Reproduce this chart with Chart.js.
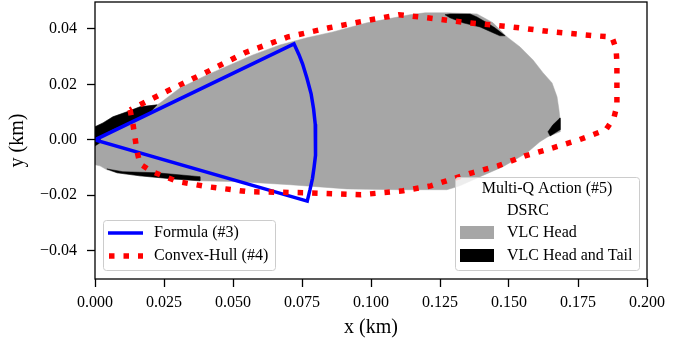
<!DOCTYPE html>
<html>
<head>
<meta charset="utf-8">
<title>Coverage</title>
<script src="https://cdn.jsdelivr.net/npm/chart.js@4.4.1/dist/chart.umd.min.js"></script>
<style>
  html, body { margin: 0; padding: 0; background: #fff; }
  #wrap { width: 689px; height: 345px; }
</style>
</head>
<body>
<div id="wrap"><canvas id="coverage" width="689" height="345"></canvas></div>
<script>
// ---- data (km) ----
const xTicks = [0, 0.025, 0.05, 0.075, 0.1, 0.125, 0.15, 0.175, 0.2];
const yTicks = [-0.04, -0.02, 0, 0.02, 0.04];

// Formula (#3): origin -> arc of the sector -> origin
const formulaSector = [
  [0, 0], [0.0721, 0.0346], [0.0739, 0.0307], [0.0752, 0.0274], [0.0768, 0.0222],
  [0.0783, 0.0166], [0.0792, 0.0111], [0.0798, 0.0056], [0.0800, 0.0000],
  [0.0798, -0.0056], [0.0794, -0.0097], [0.0788, -0.0139], [0.0779, -0.0180],
  [0.0769, -0.0221], [0, 0]
];

// Convex-Hull (#4)
const convexHull = [
  [0.0127, 0.0108], [0.0138, 0.0054], [0.0152, -0.0040], [0.0163, -0.0087],
  [0.0207, -0.0115], [0.0301, -0.0151], [0.0406, -0.0169], [0.0554, -0.0187],
  [0.0761, -0.0191], [0.0964, -0.0198], [0.1116, -0.0184], [0.1217, -0.0166],
  [0.1264, -0.0151], [0.1366, -0.0119], [0.1460, -0.0094], [0.1558, -0.0058],
  [0.1659, -0.0029], [0.1754, 0.0000], [0.1851, 0.0036], [0.1880, 0.0079],
  [0.1891, 0.0123], [0.1891, 0.0278], [0.1888, 0.0328], [0.1873, 0.0371],
  [0.1815, 0.0375], [0.1659, 0.0389], [0.1511, 0.0407], [0.1355, 0.0422],
  [0.1203, 0.0440], [0.1101, 0.0451], [0.1000, 0.0433], [0.0848, 0.0404],
  [0.0699, 0.0371], [0.0543, 0.0314], [0.0406, 0.0245], [0.0264, 0.0177],
  [0.0127, 0.0108]
];

// Multi-Q Action (#5): VLC Head region (grey)
const vlcHead = [
  [0, 0.0047], [0.0029, 0.0061], [0.0065, 0.0083], [0.0116, 0.0101], [0.0163, 0.0119],
  [0.0225, 0.0126], [0.0236, 0.0133], [0.0308, 0.0187], [0.0406, 0.0234], [0.0489, 0.0270],
  [0.0572, 0.0306], [0.0670, 0.0342], [0.0768, 0.0368], [0.0862, 0.0389], [0.0986, 0.0422],
  [0.1141, 0.0451], [0.1196, 0.0458], [0.1275, 0.0458], [0.1384, 0.0454], [0.1442, 0.0422],
  [0.1493, 0.0371], [0.1540, 0.0335], [0.1587, 0.0288], [0.1623, 0.0242], [0.1656, 0.0205],
  [0.1674, 0.0155], [0.1681, 0.0108], [0.1685, 0.0072], [0.1685, 0.0029], [0.1641, 0.0011],
  [0.1612, -0.0007], [0.1565, -0.0047], [0.1478, -0.0097], [0.1395, -0.0133], [0.1322, -0.0166],
  [0.1275, -0.0180], [0.1105, -0.0180], [0.0913, -0.0177], [0.0707, -0.0162], [0.0525, -0.0151],
  [0.0380, -0.0148], [0.0283, -0.0141], [0.0163, -0.0130], [0.0080, -0.0119], [0.0043, -0.0108],
  [0.0018, -0.0094], [0, -0.0090], [0, 0.0047]
];

// VLC Head and Tail patches (black)
const headTailUpperLeft = [
  [0, 0.0047], [0.0029, 0.0061], [0.0065, 0.0083], [0.0116, 0.0101], [0.0163, 0.0119],
  [0.0225, 0.0126], [0.0199, 0.0098], [0.0127, 0.0065], [0.0054, 0.0032], [0.0018, 0.0011],
  [0.0018, -0.0011], [0, -0.0022], [0, 0.0047]
];
const headTailLowerLeft = [
  [0.0043, -0.0105], [0.0101, -0.0115], [0.0225, -0.0119], [0.0380, -0.0133],
  [0.0380, -0.0148], [0.0283, -0.0141], [0.0163, -0.0130], [0.0080, -0.0119], [0.0043, -0.0105]
];
const headTailTop = [
  [0.1268, 0.0451], [0.1286, 0.0454], [0.1359, 0.0454], [0.1384, 0.0443], [0.1420, 0.0422],
  [0.1449, 0.0404], [0.1486, 0.0375], [0.1467, 0.0375], [0.1442, 0.0386], [0.1395, 0.0407],
  [0.1333, 0.0422], [0.1286, 0.0440], [0.1268, 0.0451]
];
const headTailRight = [
  [0.1641, 0.0029], [0.1659, 0.0054], [0.1685, 0.0079], [0.1685, 0.0036], [0.1649, 0.0014],
  [0.1641, 0.0029]
];

const FONT = '"Liberation Serif", "Times New Roman", serif';
const GREY = '#a6a6a6';
const DOTS = [5.5, 9];

const toPoints = (arr) => arr.map(([x, y]) => ({ x, y }));

function region(data, color, order) {
  return {
    data: toPoints(data),
    showLine: true,
    fill: 'shape',
    backgroundColor: color,
    borderColor: color,
    borderWidth: 0.5,
    pointRadius: 0,
    order: order,
  };
}

/**
 * Frame around the plot and the two legends
 */
const frameAndLegends = {
  id: 'frameAndLegends',
  afterDraw(chart) {
    const { ctx, chartArea: a } = chart;
    ctx.save();
    ctx.strokeStyle = '#000';
    ctx.lineWidth = 1.3;
    ctx.strokeRect(a.left, a.top, a.right - a.left, a.bottom - a.top);

    ctx.font = '16px ' + FONT;
    ctx.textBaseline = 'middle';
    ctx.fillStyle = '#000';

    // left legend
    let bx = a.left + 8, by = a.bottom - 59;
    legendBox(ctx, bx, by, 172, 50);
    ctx.lineWidth = 3.5;
    ctx.strokeStyle = '#0000ff';
    ctx.beginPath();
    ctx.moveTo(bx + 5, by + 13); ctx.lineTo(bx + 40, by + 13);
    ctx.stroke();
    ctx.strokeStyle = '#ff0000';
    ctx.lineWidth = 5.5;
    ctx.setLineDash(DOTS);
    ctx.beginPath();
    ctx.moveTo(bx + 6, by + 36); ctx.lineTo(bx + 40, by + 36);
    ctx.stroke();
    ctx.setLineDash([]);
    ctx.fillStyle = '#000';
    ctx.fillText('Formula (#3)', bx + 51, by + 13);
    ctx.fillText('Convex-Hull (#4)', bx + 51, by + 36);

    // right legend
    bx = a.right - 192; by = a.bottom - 102;
    legendBox(ctx, bx, by, 184, 93);
    ctx.fillStyle = '#000';
    ctx.textAlign = 'center';
    ctx.fillText('Multi-Q Action (#5)', bx + 92, by + 12);
    ctx.textAlign = 'left';
    ctx.fillText('DSRC', bx + 52, by + 34);
    ctx.fillStyle = GREY;
    ctx.fillRect(bx + 5, by + 49, 34, 13);
    ctx.fillStyle = '#000';
    ctx.fillRect(bx + 5, by + 72, 34, 13);
    ctx.fillText('VLC Head', bx + 52, by + 56);
    ctx.fillText('VLC Head and Tail', bx + 52, by + 79);
    ctx.restore();
  }
};

function legendBox(ctx, x, y, w, h) {
  ctx.save();
  ctx.beginPath();
  ctx.roundRect(x + 0.5, y + 0.5, w, h, 3);
  ctx.fillStyle = 'rgba(255,255,255,0.8)';
  ctx.fill();
  ctx.strokeStyle = '#cccccc';
  ctx.lineWidth = 1;
  ctx.stroke();
  ctx.restore();
}

const tickFont = { family: FONT, size: 16 };
const titleFont = { family: FONT, size: 20 };

new Chart(document.getElementById('coverage'), {
  type: 'scatter',
  data: {
    datasets: [
      {
        label: 'Convex-Hull (#4)',
        data: toPoints(convexHull),
        showLine: true,
        fill: false,
        borderColor: '#ff0000',
        borderWidth: 5.5,
        borderDash: DOTS,
        borderCapStyle: 'butt',
        pointRadius: 0,
        order: 1,
      },
      {
        label: 'Formula (#3)',
        data: toPoints(formulaSector),
        showLine: true,
        fill: false,
        borderColor: '#0000ff',
        borderWidth: 3.5,
        borderJoinStyle: 'miter',
        pointRadius: 0,
        order: 2,
      },
      region(headTailUpperLeft, '#000', 3),
      region(headTailLowerLeft, '#000', 3),
      region(headTailTop, '#000', 3),
      region(headTailRight, '#000', 3),
      region(vlcHead, GREY, 4),
    ],
  },
  options: {
    responsive: false,
    animation: false,
    devicePixelRatio: 1,
    layout: { padding: { top: 2, right: 42, bottom: 0, left: 0 } },
    plugins: {
      legend: { display: false },
      tooltip: { enabled: false },
    },
    scales: {
      x: {
        type: 'linear',
        min: 0,
        max: 0.2,
        afterBuildTicks: (s) => { s.ticks = xTicks.map((v) => ({ value: v })); },
        afterFit: (s) => { s.height = 66; s.paddingLeft = 0; s.paddingRight = 0; },
        ticks: {
          callback: (v) => v.toFixed(3),
          font: tickFont,
          color: '#000',
          padding: 6,
          maxRotation: 0,
          autoSkip: false,
        },
        grid: {
          drawOnChartArea: false,
          tickLength: 8,
          tickWidth: 1.3,
          tickColor: '#000',
        },
        border: { display: false },
        title: {
          display: true,
          text: 'x (km)',
          font: titleFont,
          color: '#000',
          padding: { top: 0, bottom: 5 },
        },
      },
      y: {
        type: 'linear',
        min: -0.0502,
        max: 0.0497,
        afterBuildTicks: (s) => { s.ticks = yTicks.map((v) => ({ value: v })); },
        afterFit: (s) => { s.width = 95; s.paddingTop = 0; s.paddingBottom = 0; },
        ticks: {
          callback: (v) => v.toFixed(2).replace('-', '\u2212'),
          font: tickFont,
          color: '#000',
          padding: 10,
          autoSkip: false,
        },
        grid: {
          drawOnChartArea: false,
          tickLength: 8,
          tickWidth: 1.3,
          tickColor: '#000',
        },
        border: { display: false },
        title: {
          display: true,
          text: 'y (km)',
          font: titleFont,
          color: '#000',
          padding: { top: 6, bottom: 0 },
        },
      },
    },
  },
  plugins: [frameAndLegends],
});
</script>
</body>
</html>
